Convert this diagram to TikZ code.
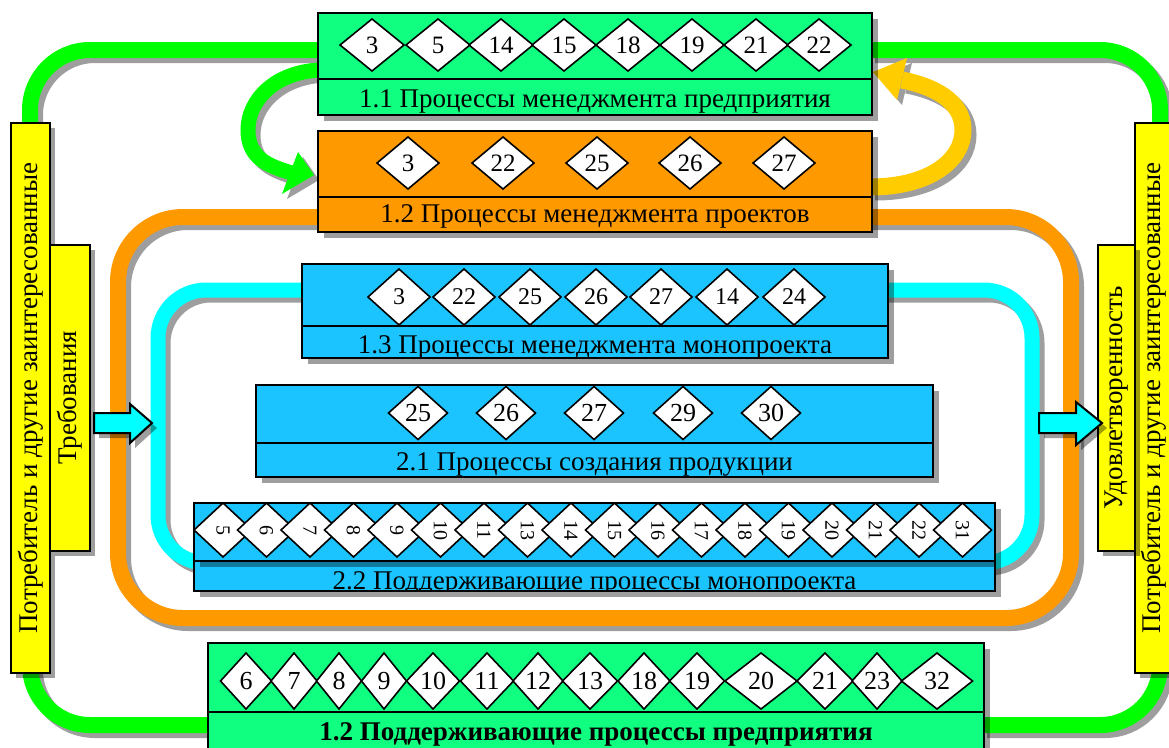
\documentclass[tikz,border=0pt]{standalone}
\usepackage{fontspec}
\setmainfont{Liberation Serif}
\usepackage{graphicx}
\usetikzlibrary{shapes.geometric}
\definecolor{grnbox}{RGB}{16,255,128}
\definecolor{orng}{RGB}{255,153,0}
\definecolor{bluebox}{RGB}{28,196,255}
\definecolor{cyanband}{RGB}{0,255,255}
\definecolor{grnband}{RGB}{0,255,0}
\definecolor{goldc}{RGB}{255,204,0}
\definecolor{yel}{RGB}{255,255,0}
\pgfdeclarelayer{bg}
\pgfsetlayers{bg,main}
\tikzset{
  shadowfill/.style={fill=black,fill opacity=0.38,draw=none},
  shadowline/.style={draw=black,draw opacity=0.38,shift={(5,5)}},
  boxpart/.style={draw=black,line width=2pt,inner sep=0pt,outer sep=0pt,anchor=north west},
  dia/.style={shape=diamond,draw=black,line width=1.6pt,fill=white,inner sep=0pt,outer sep=0pt},
  ybox/.style={draw=black,fill=yel,line width=2pt,inner sep=0pt,rotate=90,font=\fontsize{27}{30}\selectfont},
  ttl/.style={anchor=base,inner sep=0pt,font=\fontsize{27}{30}\selectfont},
  blockarrow/.style={draw=black,line width=2pt,fill=cyanband},
}
\newcommand\pbox[7]{%
  \fill[shadowfill] (#2+6,#3+6) rectangle (#4+6,#6+6);
  \node[boxpart,fill=#7,minimum width={#4-#2},minimum height={#5-#3}] (#1top) at (#2,#3) {};
  \node[boxpart,fill=#7,minimum width={#4-#2},minimum height={#6-#5}] (#1bot) at (#2,#5) {};
}
\begin{document}
\begin{tikzpicture}[x=1pt,y=-1pt]
\useasboundingbox (0,0) rectangle (1169,747);
\clip (0,0) rectangle (1169,747);

% ---------- process boxes ----------
\pbox{b11}{318}{13}{872}{79}{115}{grnbox}
\pbox{b12}{318}{131}{872}{197}{232}{orng}
\pbox{b13}{302}{264}{888}{326}{358}{bluebox}
\pbox{b21}{256}{385}{933}{443}{477}{bluebox}
\pbox{b22}{194}{503}{995}{561}{591}{bluebox}
\fill[shadowfill] (200,562) rectangle (994,567);
\pbox{bpp}{208}{643}{984}{712}{760}{grnbox}

% ---------- bands (background) ----------
\begin{pgfonlayer}{bg}
  % big green loop
  \draw[shadowline,line width=16pt,rounded corners=60pt] (320,50) -| (30,400) |- (210,725);
  \draw[shadowline,line width=16pt,rounded corners=60pt] (870,50) -| (1160,400) |- (982,725);
  \draw[grnband,line width=16pt,rounded corners=60pt] (320,50) -| (30,400) |- (210,725);
  \draw[grnband,line width=16pt,rounded corners=60pt] (870,50) -| (1160,400) |- (982,725);
  % orange loop
  \draw[shadowline,line width=16pt,rounded corners=65pt] (600,217) -| (118,420) |- (600,618) -| (1071,420) |- (600,217);
  \draw[orng,line width=16pt,rounded corners=65pt] (600,217) -| (118,420) |- (600,618) -| (1071,420) |- (600,217);
  % cyan loop
  \draw[shadowline,line width=15pt,rounded corners=48pt] (600,290) -| (158,420) |- (600,563) -| (1032,420) |- (600,290);
  \draw[cyanband,line width=15pt,rounded corners=48pt] (600,290) -| (158,420) |- (600,563) -| (1032,420) |- (600,290);
  % green curved arrow 1.1 -> 1.2
  \draw[shadowline,line width=15pt] (320,70) .. controls (275,72) and (248,100) .. (248,130) .. controls (248,158) and (268,166) .. (292,173);
  \fill[black,opacity=0.38,shift={(5,5)}] (298,152) -- (314,175) -- (282,194) -- cycle;
  \draw[grnband,line width=15pt] (320,70) .. controls (275,72) and (248,100) .. (248,130) .. controls (248,158) and (268,166) .. (292,173);
  \fill[grnband] (298,152) -- (314,175) -- (282,194) -- cycle;
  % gold curved arrow 1.2 -> 1.1
  \draw[shadowline,line width=17pt] (870,187) .. controls (930,187) and (963,160) .. (963,130) .. controls (963,100) and (932,86) .. (902,80);
  \fill[black,opacity=0.38,shift={(5,5)}] (873,72) -- (907,58) -- (897,100) -- cycle;
  \draw[goldc,line width=17pt] (870,187) .. controls (930,187) and (963,160) .. (963,130) .. controls (963,100) and (932,86) .. (902,80);
  \fill[goldc] (873,72) -- (907,58) -- (897,100) -- cycle;
\end{pgfonlayer}

% ---------- yellow side boxes ----------
\fill[shadowfill] (16,128) rectangle (55,678);
\node[ybox,minimum width=550,minimum height=39] (ylo) at (30.5,398) {Потребитель и другие заинтересованные};
\fill[shadowfill] (55,250) rectangle (95,556);
\node[ybox,minimum width=306,minimum height=40] (yli) at (70,398) {Требования};
\fill[shadowfill] (1140,128) rectangle (1177,678);
\node[ybox,minimum width=550,minimum height=37] (yro) at (1153.5,398) {Потребитель и другие заинтересованные};
\fill[shadowfill] (1103,250) rectangle (1140,556);
\node[ybox,minimum width=306,minimum height=37] (yri) at (1116.5,398) {Удовлетворенность};

% ---------- block arrows ----------
\fill[shadowfill,shift={(5,5)}] (94,413) -- (130,413) -- (130,404) -- (152,423) -- (130,443) -- (130,433) -- (94,433) -- cycle;
\draw[blockarrow] (94,413) -- (130,413) -- (130,404) -- (152,423) -- (130,443) -- (130,433) -- (94,433) -- cycle;
\fill[shadowfill,shift={(5,5)}] (1039,413) -- (1076,413) -- (1076,402) -- (1102,423) -- (1076,445) -- (1076,433) -- (1039,433) -- cycle;
\draw[blockarrow] (1039,413) -- (1076,413) -- (1076,402) -- (1102,423) -- (1076,445) -- (1076,433) -- (1039,433) -- cycle;

% ---------- diamonds ----------
\foreach \x/\n in {372/3,438/5,501/14,564/15,628/18,692/19,756/21,819/22}
  \node[dia,minimum width=64,minimum height=52,font=\fontsize{25}{25}\selectfont] (d11-\n) at (\x,45) {\n};
\foreach \x/\n in {408/3,503/22,597/25,690/26,784/27}
  \node[dia,minimum width=62,minimum height=52,font=\fontsize{25}{25}\selectfont] (d12-\n) at (\x,163) {\n};
\foreach \x/\n in {399/3,464/22,530/25,596/26,661/27,727/14,794/24}
  \node[dia,minimum width=62,minimum height=56,font=\fontsize{24}{24}\selectfont] (d13-\n) at (\x,297) {\n};
\foreach \x/\n in {418/25,506/26,594/27,683/29,771/30}
  \node[dia,minimum width=59,minimum height=53,font=\fontsize{26}{26}\selectfont] (d21-\n) at (\x,413) {\n};
\foreach \n [count=\i from 0] in {5,6,7,8,9,10,11,13,14,15,16,17,18,19,20,21,22,31}
  \node[dia,minimum width=58,minimum height=54,font=\fontsize{20}{20}\selectfont] (d22-\n) at ({223+43.5*\i},530) {\rotatebox{-90}{\n}};
\foreach \x/\w/\n in {246/51/6,294/46/7,339/45/8,384/45/9,433/53/10,487/53/11,538/50/12,590/55/13,644/52/18,697/55/19,761/72/20,825/56/21,877/50/23,937/71/32}
  \node[dia,minimum width=\w,minimum height=56,font=\fontsize{26}{26}\selectfont] (dpp-\n) at (\x,681) {\n};

% ---------- titles ----------
\node[ttl] (t11) at (595,107) {1.1 Процессы менеджмента предприятия};
\node[ttl] (t12) at (595,222) {1.2 Процессы менеджмента проектов};
\node[ttl] (t13) at (595,353) {1.3 Процессы менеджмента монопроекта};
\node[ttl] (t21) at (594.5,470) {2.1 Процессы создания продукции};
\begin{scope}
  \clip (194,561) rectangle (995,590);
  \node[ttl] (t22) at (594.5,589) {2.2 Поддерживающие процессы монопроекта};
\end{scope}
\draw[line width=2pt] (194,561) rectangle (995,591);
\node[ttl,font=\fontsize{27}{30}\selectfont\bfseries] (tpp) at (596,740) {1.2 Поддерживающие процессы предприятия};
\end{tikzpicture}
\end{document}
